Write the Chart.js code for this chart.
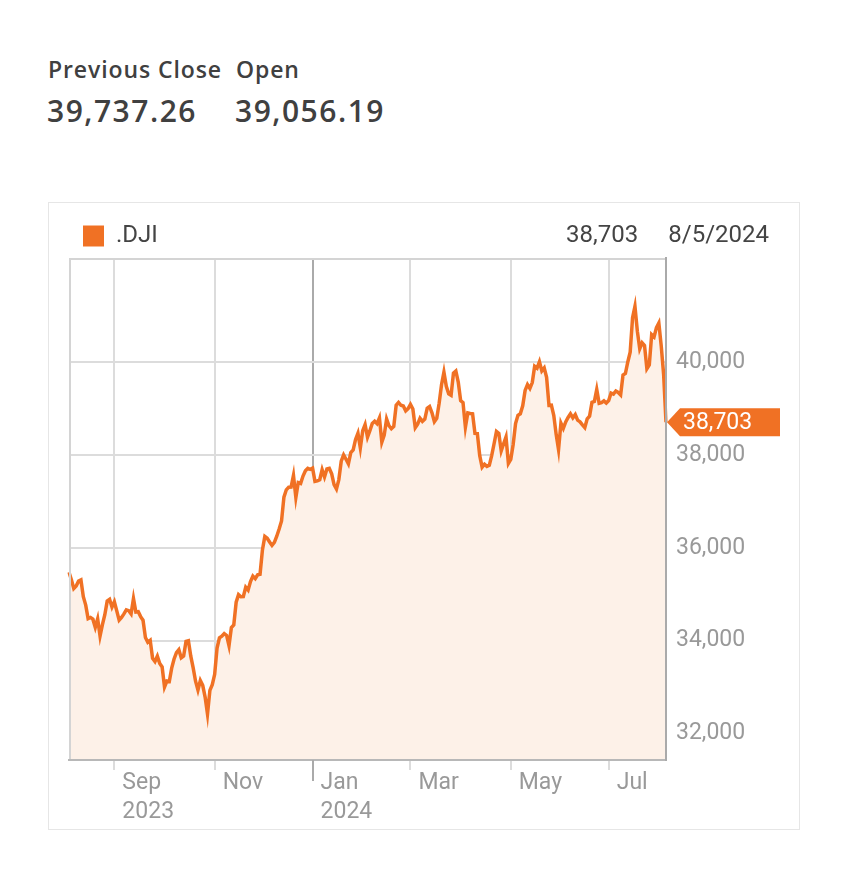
<!DOCTYPE html>
<html>
<head>
<meta charset="utf-8">
<script src="https://cdn.jsdelivr.net/npm/chart.js@4.4.1/dist/chart.umd.min.js"></script>
<style>
  body { margin: 0; background: #fff; width: 844px; height: 896px; position: relative; font-family: 'Open Sans', sans-serif; color: #404040; }
  .lbl { position: absolute; top: 58px; font-size: 23px; font-weight: 600; line-height: 23px; white-space: nowrap; letter-spacing: 0.9px; }
  .val { position: absolute; top: 96px; font-size: 30px; font-weight: 600; line-height: 30px; white-space: nowrap; letter-spacing: 1.5px; }
  .box { position: absolute; left: 48px; top: 202px; width: 750px; height: 626px; border: 1px solid #e6e6e6; }
  canvas { display: block; }
</style>
</head>
<body>
<div class="lbl" style="left:48px">Previous Close</div>
<div class="lbl" style="left:236px">Open</div>
<div class="val" style="left:47px">39,737.26</div>
<div class="val" style="left:235px">39,056.19</div>
<div class="box"><canvas id="djiChart" width="750" height="626"></canvas></div>
<script>
// trading days, 8/7/2023 .. 8/5/2024
const dates = [
  '8/7/2023','8/8/2023','8/9/2023','8/10/2023','8/11/2023','8/14/2023','8/15/2023','8/16/2023','8/17/2023','8/18/2023','8/21/2023','8/22/2023','8/23/2023','8/24/2023','8/25/2023','8/28/2023','8/29/2023','8/30/2023','8/31/2023',
  '9/1/2023','9/5/2023','9/6/2023','9/7/2023','9/8/2023','9/11/2023','9/12/2023','9/13/2023','9/14/2023','9/15/2023','9/18/2023','9/19/2023','9/20/2023','9/21/2023','9/22/2023','9/25/2023','9/26/2023','9/27/2023','9/28/2023','9/29/2023',
  '10/2/2023','10/3/2023','10/4/2023','10/5/2023','10/6/2023','10/9/2023','10/10/2023','10/11/2023','10/12/2023','10/13/2023','10/16/2023','10/17/2023','10/18/2023','10/19/2023','10/20/2023','10/23/2023','10/24/2023','10/25/2023','10/26/2023','10/27/2023','10/30/2023','10/31/2023',
  '11/1/2023','11/2/2023','11/3/2023','11/6/2023','11/7/2023','11/8/2023','11/9/2023','11/10/2023','11/13/2023','11/14/2023','11/15/2023','11/16/2023','11/17/2023','11/20/2023','11/21/2023','11/22/2023','11/24/2023','11/27/2023','11/28/2023','11/29/2023','11/30/2023',
  '12/1/2023','12/4/2023','12/5/2023','12/6/2023','12/7/2023','12/8/2023','12/11/2023','12/12/2023','12/13/2023','12/14/2023','12/15/2023','12/18/2023','12/19/2023','12/20/2023','12/21/2023','12/22/2023','12/26/2023','12/27/2023','12/28/2023','12/29/2023',
  '1/2/2024','1/3/2024','1/4/2024','1/5/2024','1/8/2024','1/9/2024','1/10/2024','1/11/2024','1/12/2024','1/16/2024','1/17/2024','1/18/2024','1/19/2024','1/22/2024','1/23/2024','1/24/2024','1/25/2024','1/26/2024','1/29/2024','1/30/2024','1/31/2024',
  '2/1/2024','2/2/2024','2/5/2024','2/6/2024','2/7/2024','2/8/2024','2/9/2024','2/12/2024','2/13/2024','2/14/2024','2/15/2024','2/16/2024','2/20/2024','2/21/2024','2/22/2024','2/23/2024','2/26/2024','2/27/2024','2/28/2024','2/29/2024',
  '3/1/2024','3/4/2024','3/5/2024','3/6/2024','3/7/2024','3/8/2024','3/11/2024','3/12/2024','3/13/2024','3/14/2024','3/15/2024','3/18/2024','3/19/2024','3/20/2024','3/21/2024','3/22/2024','3/25/2024','3/26/2024','3/27/2024','3/28/2024',
  '4/1/2024','4/2/2024','4/3/2024','4/4/2024','4/5/2024','4/8/2024','4/9/2024','4/10/2024','4/11/2024','4/12/2024','4/15/2024','4/16/2024','4/17/2024','4/18/2024','4/19/2024','4/22/2024','4/23/2024','4/24/2024','4/25/2024','4/26/2024','4/29/2024','4/30/2024',
  '5/1/2024','5/2/2024','5/3/2024','5/6/2024','5/7/2024','5/8/2024','5/9/2024','5/10/2024','5/13/2024','5/14/2024','5/15/2024','5/16/2024','5/17/2024','5/20/2024','5/21/2024','5/22/2024','5/23/2024','5/24/2024','5/28/2024','5/29/2024','5/30/2024','5/31/2024',
  '6/3/2024','6/4/2024','6/5/2024','6/6/2024','6/7/2024','6/10/2024','6/11/2024','6/12/2024','6/13/2024','6/14/2024','6/17/2024','6/18/2024','6/20/2024','6/21/2024','6/24/2024','6/25/2024','6/26/2024','6/27/2024','6/28/2024',
  '7/1/2024','7/2/2024','7/3/2024','7/5/2024','7/8/2024','7/9/2024','7/10/2024','7/11/2024','7/12/2024','7/15/2024','7/16/2024','7/17/2024','7/18/2024','7/19/2024','7/22/2024','7/23/2024','7/24/2024','7/25/2024','7/26/2024','7/29/2024','7/30/2024','7/31/2024',
  '8/1/2024','8/2/2024','8/5/2024'
];

const closes = [
  35473,35314,35123,35176,35281,35307,34946,34766,34475,34500,34463,34288,34472,34099,34346,34559,34852,34890,34722,
  34838,34642,34443,34501,34577,34663,34646,34576,34908,34618,34624,34518,34441,34070,33964,34007,33619,33551,33667,33508,
  33433,33002,33130,33120,33408,33605,33740,33805,33632,33671,33985,33998,33666,33415,33127,32937,33141,33036,32785,32418,32929,33053,
  33275,33840,34061,34096,34153,34112,33892,34283,34337,34828,34991,34945,34947,35151,35088,35273,35390,35334,35417,35430,35951,
  36245,36204,36125,36054,36118,36248,36405,36578,37090,37248,37306,37307,37558,37083,37405,37386,37545,37657,37711,37690,
  37715,37430,37440,37466,37683,37525,37696,37711,37593,37361,37267,37469,37863,38001,37906,37806,38050,38109,38333,38467,38150,
  38520,38654,38380,38521,38677,38726,38672,38797,38273,38424,38773,38628,38564,38612,39069,39131,39069,39053,38949,38996,
  39087,38990,38585,38661,38791,38723,38770,39005,39043,38906,38715,38790,39111,39512,39781,39476,39314,39283,39760,39807,
  39567,39170,39127,38597,38904,38892,38884,38462,38459,37983,37735,37799,37753,37775,37986,38240,38504,38461,38086,38240,38386,37816,
  37903,38226,38676,38852,38884,39056,39388,39513,39432,39558,39908,39869,40004,39807,39873,39671,39065,39070,38853,38442,38112,38686,
  38571,38711,38807,38886,38799,38868,38747,38712,38647,38589,38778,38834,39134,39150,39411,39112,39127,39164,39118,
  39169,39331,39308,39375,39344,39291,39721,39753,40001,40212,40954,41198,40665,40288,40415,40358,39854,39935,40589,40540,40743,40842,
  40348,39737,38703
];

const tickDates = ['9/1/2023', '11/1/2023', '1/2/2024', '3/1/2024', '5/1/2024', '7/1/2024'];
const tickLabels = [['Sep', '2023'], 'Nov', ['Jan', '2024'], 'Mar', 'May', 'Jul'];
const yTicks = [32000, 34000, 36000, 38000, 40000];

const orange = '#f07124';
const lastVal = closes[closes.length - 1];
const lastDate = dates[dates.length - 1];
const isYearTick = i => dates[i] && dates[i].startsWith('1/');

Chart.defaults.font.family = 'Roboto';

// left + top edge of the plot, over the fill
const frame = {
    id: 'frame',
    afterDatasetsDraw(chart) {
        const { ctx, chartArea: a } = chart;
        ctx.save();
        ctx.strokeStyle = '#d4d4d4';
        ctx.lineWidth = 2;
        ctx.beginPath();
        ctx.moveTo(a.left + 1, a.bottom);
        ctx.lineTo(a.left + 1, a.top + 1);
        ctx.lineTo(a.right, a.top + 1);
        ctx.stroke();
        ctx.restore();
    }
};

// longer tick mark at the year change
const yearTick = {
    id: 'yearTick',
    afterDraw(chart) {
        const { ctx, chartArea: a, scales: { x } } = chart;
        ctx.save();
        ctx.strokeStyle = '#aaaaaa';
        ctx.lineWidth = 2;
        x.ticks.forEach(t => {
            if (!isYearTick(t.value)) return;
            const px = Math.round(x.getPixelForValue(t.value));
            ctx.beginPath();
            ctx.moveTo(px, a.bottom);
            ctx.lineTo(px, a.bottom + 21);
            ctx.stroke();
        });
        ctx.restore();
    }
};

// last value flag on the y axis + value/date at top right
const lastFlag = {
    id: 'lastFlag',
    afterDraw(chart) {
        const { ctx, chartArea: a } = chart;
        const y = chart.scales.y.getPixelForValue(lastVal);
        const x0 = a.right + 1;
        ctx.save();
        ctx.fillStyle = orange;
        ctx.beginPath();
        ctx.moveTo(x0, y);
        ctx.lineTo(x0 + 13, y - 14);
        ctx.lineTo(x0 + 113, y - 14);
        ctx.lineTo(x0 + 113, y + 14);
        ctx.lineTo(x0 + 13, y + 14);
        ctx.closePath();
        ctx.fill();
        ctx.fillStyle = '#fff';
        ctx.font = '23px Roboto';
        ctx.textBaseline = 'middle';
        ctx.textAlign = 'left';
        ctx.fillText(lastVal.toLocaleString('en-US'), x0 + 16, y + 1);

        const hb = chart.legend.legendHitBoxes[0];
        const ty = hb.top + hb.height / 2;
        ctx.fillStyle = '#444';
        ctx.font = '24px Roboto';
        ctx.textAlign = 'right';
        const right = chart.width - 30;
        ctx.fillText(lastDate, right, ty);
        const dw = ctx.measureText(lastDate).width;
        ctx.fillText(lastVal.toLocaleString('en-US'), right - dw - 30, ty);
        ctx.restore();
    }
};

const ctx = document.getElementById('djiChart').getContext('2d');
window.djiChart = new Chart(ctx, {
    type: 'line',
    data: {
        labels: dates,
        datasets: [{
            label: '.DJI',
            data: closes,
            borderColor: orange,
            backgroundColor: '#fdf1e8',
            borderWidth: 3.5,
            pointRadius: 0,
            tension: 0,
            fill: 'start'
        }]
    },
    options: {
        responsive: false,
        animation: false,
        layout: { padding: { top: 7, left: 20, right: 19, bottom: 0 } },
        plugins: {
            tooltip: { enabled: false },
            legend: {
                align: 'start',
                labels: {
                    boxWidth: 21,
                    boxHeight: 21,
                    padding: 14,
                    color: '#444',
                    font: { size: 24 },
                    generateLabels: chart => chart.data.datasets.map((ds, i) => ({
                        text: ds.label,
                        fillStyle: ds.borderColor,
                        strokeStyle: ds.borderColor,
                        lineWidth: 0,
                        fontColor: '#444',
                        hidden: false,
                        datasetIndex: i
                    }))
                }
            }
        },
        scales: {
            x: {
                afterBuildTicks: axis => {
                    axis.ticks = axis.ticks.filter(t => tickDates.includes(dates[t.value]));
                },
                afterFit: axis => { axis.height = 69; },
                ticks: {
                    autoSkip: false,
                    maxRotation: 0,
                    align: 'start',
                    labelOffset: 8,
                    padding: -1,
                    color: '#999',
                    font: { size: 23, lineHeight: 1.24 },
                    callback: value => tickLabels[tickDates.indexOf(dates[value])]
                },
                grid: {
                    color: c => isYearTick(c.tick && c.tick.value) ? '#aaaaaa' : '#dcdcdc',
                    lineWidth: 2,
                    tickLength: 10
                },
                border: { color: '#b8b8b8', width: 2, z: 1 }
            },
            y: {
                position: 'right',
                min: 31430,
                max: 42240,
                afterBuildTicks: axis => {
                    axis.ticks = yTicks.map(v => ({ value: v }));
                },
                afterFit: axis => { axis.width = 114; },
                ticks: {
                    padding: 10,
                    color: '#999',
                    font: { size: 23 },
                    callback: v => v.toLocaleString('en-US')
                },
                grid: { color: '#dcdcdc', lineWidth: 2, drawTicks: false },
                border: { color: '#aaaaaa', width: 2, z: 1 }
            }
        }
    },
    plugins: [frame, yearTick, lastFlag]
});
</script>
</body>
</html>
